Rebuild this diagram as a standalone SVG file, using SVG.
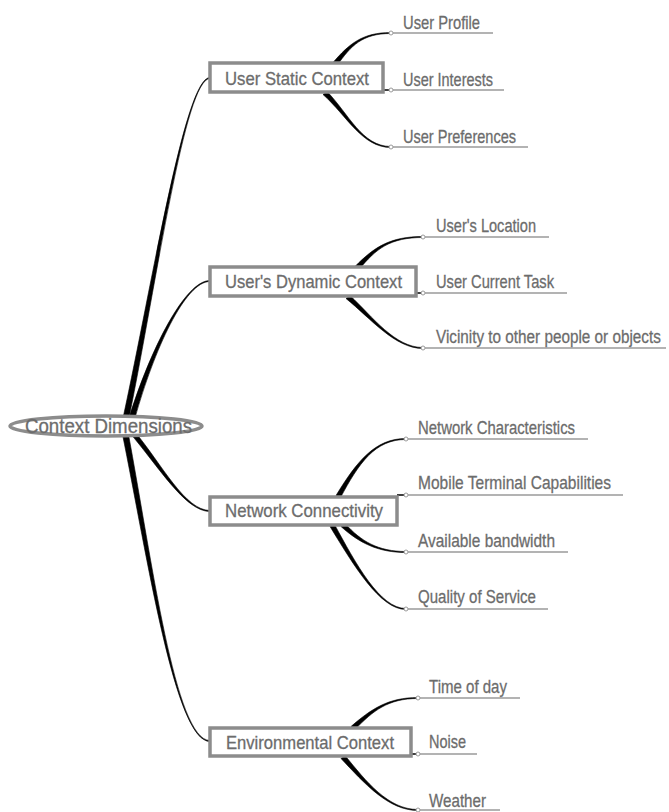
<svg xmlns="http://www.w3.org/2000/svg" width="669" height="812" viewBox="0 0 669 812">
  <style>
    .lbl { font-family: "Liberation Sans Narrow", "Liberation Sans", Arial, sans-serif; font-size: 19px; fill: #6c6c6c; stroke: #6c6c6c; stroke-width: 0.3; }
    .root { font-size: 20px; }
    .box { fill: #ffffff; stroke: #8c8c8c; stroke-width: 3.5; }
    .oval { fill: #ffffff; stroke: #8c8c8c; stroke-width: 3.5; }
    .leafline { stroke: #9a9a9a; stroke-width: 1.5; fill: none; }
    .dot { fill: #ffffff; stroke: #9a9a9a; stroke-width: 1; }
    .branch { fill: #000000; stroke: #000000; stroke-width: 0.6; stroke-linejoin: round; }
    .stub { stroke: #000000; stroke-width: 1.5; fill: none; }
  </style>
  <rect width="669" height="812" fill="#ffffff"/>

  <!-- tapered connectors -->
  <g id="connectors">
    <!-- root to main branches -->
    <path class="branch" d="M123,418 C153,280 185,77.5 210,77.5 L210,78.5 C185,78.5 157,280 129,418 Z"/>
    <path class="branch" d="M129,418 C150,350 185,280.5 210,280.5 L210,281.5 C185,281.5 154,350 135,418 Z"/>
    <path class="branch" d="M129,432 C158.5,466.2 185,511.5 210,511.5 L210,510.5 C185,510.5 161.5,463.8 135,432 Z"/>
    <path class="branch" d="M122,432 C148,560 175,741.5 210,741.5 L210,740.5 C175,740.5 152,560 128,432 Z"/>

    <!-- User Static Context leaves -->
    <path class="branch" d="M333,62.5 C349,44.2 362,32.5 391,32.5 L391,33.5 C362,33.5 351,45.8 337,65.5 Z"/>
    <path class="stub" d="M383,90 H391"/>
    <path class="branch" d="M323,94.5 C347,115.8 362,147.5 391,147.5 L391,146.5 C362,146.5 349,114.2 327,91.5 Z"/>

    <!-- User's Dynamic Context leaves -->
    <path class="branch" d="M355,266.5 C374,247.2 390,236.5 423,236.5 L423,237.5 C390,237.5 376,248.8 359,269.5 Z"/>
    <path class="stub" d="M416,293 H423"/>
    <path class="branch" d="M346,298.5 C371,318.8 395,348.5 423,348.5 L423,347.5 C395,347.5 373,317.2 350,295.5 Z"/>

    <!-- Network Connectivity leaves -->
    <path class="branch" d="M336,495.5 C357,461.2 375,438.5 406,438.5 L406,439.5 C375,439.5 359,462.8 340,498.5 Z"/>
    <path class="stub" d="M397,495 H406"/>
    <path class="branch" d="M341,526.5 C359,542.8 378,552.5 406,552.5 L406,551.5 C378,551.5 361,541.2 345,523.5 Z"/>
    <path class="branch" d="M330,526.5 C354,565.8 380,609.5 406,609.5 L406,608.5 C380,608.5 356,564.2 334,523.5 Z"/>

    <!-- Environmental Context leaves -->
    <path class="branch" d="M351,726.5 C371,709.2 388,697.5 418,697.5 L418,698.5 C388,698.5 373,710.8 355,729.5 Z"/>
    <path class="stub" d="M411,754 H418"/>
    <path class="branch" d="M341,758.5 C364,782.8 388,810.5 418,810.5 L418,809.5 C388,809.5 366,781.2 345,755.5 Z"/>
  </g>

  <!-- central topic -->
  <g id="context-dimensions">
    <ellipse class="oval" cx="106" cy="426" rx="96" ry="10"/>
    <text class="lbl root" x="25" y="433" textLength="167" lengthAdjust="spacingAndGlyphs">Context Dimensions</text>
  </g>

  <!-- main branches -->
  <g id="user-static-context">
    <rect class="box" x="210" y="63" width="173" height="29"/>
    <text class="lbl" x="225" y="85" textLength="144" lengthAdjust="spacingAndGlyphs">User Static Context</text>
  </g>
  <g id="users-dynamic-context">
    <rect class="box" x="210" y="267" width="206" height="29"/>
    <text class="lbl" x="225" y="288" textLength="177" lengthAdjust="spacingAndGlyphs">User's Dynamic Context</text>
  </g>
  <g id="network-connectivity">
    <rect class="box" x="210" y="497" width="187" height="28"/>
    <text class="lbl" x="225" y="517" textLength="158" lengthAdjust="spacingAndGlyphs">Network Connectivity</text>
  </g>
  <g id="environmental-context">
    <rect class="box" x="210" y="728" width="201" height="28"/>
    <text class="lbl" x="226" y="749" textLength="168" lengthAdjust="spacingAndGlyphs">Environmental Context</text>
  </g>

  <!-- leaves: User Static Context -->
  <g id="user-profile">
    <path class="leafline" d="M393,33 H493"/><circle class="dot" cx="391" cy="33" r="2"/>
    <text class="lbl" x="403" y="29" textLength="77" lengthAdjust="spacingAndGlyphs">User Profile</text>
  </g>
  <g id="user-interests">
    <path class="leafline" d="M393,90 H504"/><circle class="dot" cx="391" cy="90" r="2"/>
    <text class="lbl" x="403" y="86" textLength="90" lengthAdjust="spacingAndGlyphs">User Interests</text>
  </g>
  <g id="user-preferences">
    <path class="leafline" d="M393,147 H528"/><circle class="dot" cx="391" cy="147" r="2"/>
    <text class="lbl" x="403" y="143" textLength="113" lengthAdjust="spacingAndGlyphs">User Preferences</text>
  </g>

  <!-- leaves: User's Dynamic Context -->
  <g id="users-location">
    <path class="leafline" d="M425,237 H549"/><circle class="dot" cx="423" cy="237" r="2"/>
    <text class="lbl" x="436" y="232" textLength="100" lengthAdjust="spacingAndGlyphs">User's Location</text>
  </g>
  <g id="user-current-task">
    <path class="leafline" d="M425,293 H567"/><circle class="dot" cx="423" cy="293" r="2"/>
    <text class="lbl" x="436" y="288" textLength="118" lengthAdjust="spacingAndGlyphs">User Current Task</text>
  </g>
  <g id="vicinity">
    <path class="leafline" d="M425,348 H666"/><circle class="dot" cx="423" cy="348" r="2"/>
    <!-- long label: narrowed horizontally so it fits before the right edge -->
    <text class="lbl" transform="translate(436,343) scale(0.8,1)" x="0" y="0" textLength="281" lengthAdjust="spacingAndGlyphs">Vicinity to other people or objects</text>
  </g>

  <!-- leaves: Network Connectivity -->
  <g id="network-characteristics">
    <path class="leafline" d="M408,439 H588"/><circle class="dot" cx="406" cy="439" r="2"/>
    <text class="lbl" x="418" y="434" textLength="157" lengthAdjust="spacingAndGlyphs">Network Characteristics</text>
  </g>
  <g id="mobile-terminal-capabilities">
    <path class="leafline" d="M408,495 H623"/><circle class="dot" cx="406" cy="495" r="2"/>
    <text class="lbl" x="418" y="489" textLength="193" lengthAdjust="spacingAndGlyphs">Mobile Terminal Capabilities</text>
  </g>
  <g id="available-bandwidth">
    <path class="leafline" d="M408,552 H568"/><circle class="dot" cx="406" cy="552" r="2"/>
    <text class="lbl" x="418" y="547" textLength="137" lengthAdjust="spacingAndGlyphs">Available bandwidth</text>
  </g>
  <g id="quality-of-service">
    <path class="leafline" d="M408,609 H548"/><circle class="dot" cx="406" cy="609" r="2"/>
    <text class="lbl" x="418" y="603" textLength="118" lengthAdjust="spacingAndGlyphs">Quality of Service</text>
  </g>

  <!-- leaves: Environmental Context -->
  <g id="time-of-day">
    <path class="leafline" d="M420,698 H520"/><circle class="dot" cx="418" cy="698" r="2"/>
    <text class="lbl" x="429" y="693" textLength="78" lengthAdjust="spacingAndGlyphs">Time of day</text>
  </g>
  <g id="noise">
    <path class="leafline" d="M420,754 H477"/><circle class="dot" cx="418" cy="754" r="2"/>
    <text class="lbl" x="429" y="748" textLength="37" lengthAdjust="spacingAndGlyphs">Noise</text>
  </g>
  <g id="weather">
    <path class="leafline" d="M420,810 H500"/><circle class="dot" cx="418" cy="810" r="2"/>
    <text class="lbl" x="429" y="807" textLength="57" lengthAdjust="spacingAndGlyphs">Weather</text>
  </g>
</svg>
